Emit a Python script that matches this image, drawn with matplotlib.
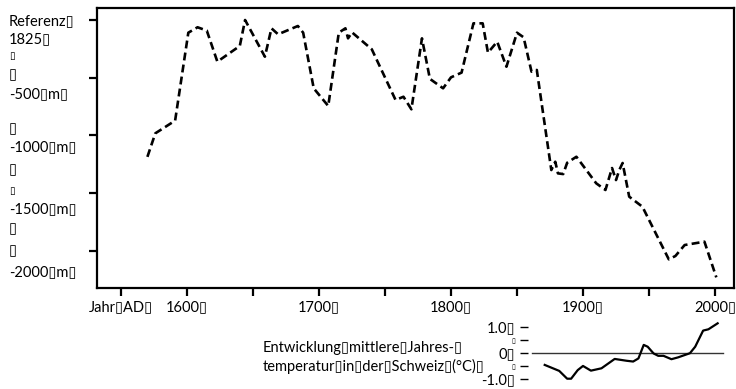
import matplotlib
matplotlib.use("Agg")
import matplotlib.pyplot as plt

# Glacier length change relative to 1825 (m)
years = [1570, 1576, 1591, 1601, 1608, 1615, 1623, 1640, 1644, 1659, 1664, 1669,
         1684, 1688, 1696, 1707, 1715, 1720, 1722, 1725, 1740, 1758, 1764, 1770,
         1778, 1784, 1794, 1800, 1808, 1817, 1824, 1828, 1835, 1842, 1850, 1855,
         1861, 1865, 1876, 1879, 1881, 1885, 1888, 1895, 1910, 1917, 1922, 1925,
         1927.5, 1930, 1935, 1945, 1965, 1970, 1977, 1992, 2001]
length = [-1186, -982, -872, -110, -63, -92, -361, -225, 0, -318, -72, -124,
          -52, -110, -592, -745, -110, -72, -159, -107, -254, -693, -665, -774,
          -159, -510, -592, -497, -456, -29, -29, -283, -188, -405, -110, -150,
          -448, -433, -1300, -1228, -1329, -1335, -1237, -1185, -1415, -1473, -1283, -1387,
          -1300, -1239, -1531, -1618, -2074, -2045, -1950, -1921, -2230]

# Swiss mean annual temperature anomaly (°C)
t_years = [1871, 1882, 1888, 1891, 1896, 1900, 1906, 1914, 1924, 1933, 1938, 1942,
           1946, 1949, 1953.5, 1957, 1961, 1967, 1972, 1981, 1985, 1991, 1995, 2002]
temp = [-0.47, -0.70, -1.0, -1.0, -0.67, -0.51, -0.69, -0.6, -0.24, -0.31, -0.34, -0.22,
        0.30, 0.23, -0.03, -0.12, -0.12, -0.25, -0.18, -0.02, 0.23, 0.85, 0.9, 1.13]

x_ticks = [1550, 1600, 1650, 1700, 1750, 1800, 1850, 1900, 1950, 2000]
x_labels = ["Jahr\u25afAD\u25af", "1600\u25af", "", "1700\u25af", "", "1800\u25af", "",
            "1900\u25af", "", "2000\u25af"]
y_ticks = [0, -500, -1000, -1500, -2000]
y_lines = ["Referenz\u25af", "1825\u25af", "\u25af", "\u25af", "-500\u25afm\u25af",
           "\u25af", "-1000\u25afm\u25af", "\u25af", "\u25af", "-1500\u25afm\u25af",
           "\u25af", "\u25af", "-2000\u25afm\u25af"]
t_ticks = [1.0, 0.5, 0.0, -0.5, -1.0]
t_labels = ["1.0\u25af", "\u25af", "0\u25af", "\u25af", "-1.0\u25af"]
inset_title = ["Entwicklung\u25afmittlere\u25afJahres-\u25af",
               "temperatur\u25afin\u25afder\u25afSchweiz\u25af(°C)\u25af"]

plt.rcParams['font.family'] = ['Lato', 'DejaVu Sans']
W, H = 736, 389
FS = 10.5
fig = plt.figure(figsize=(W / 100, H / 100), dpi=100)

xlim = (1550 - 24 / 1.32, 1550 + 613 / 1.32)

# main panel
ax = fig.add_axes([97 / W, 1 - 288 / H, 637 / W, 280.5 / H])
ax.plot(years, length, color='black', lw=1.9, dashes=(3, 1.6))
ax.set_xlim(*xlim)
ax.set_ylim(-(288 - 20) / 57.7 * 500, (20 - 7.5) / 57.7 * 500)
ax.set_xticks(x_ticks)
ax.set_xticklabels(x_labels, fontsize=FS)
ax.set_yticks(y_ticks)
ax.set_yticklabels([])
ax.tick_params(direction='out', length=6, width=1.6, pad=3)
for s in ax.spines.values():
    s.set_linewidth(1.6)

# y labels drawn as stacked text lines
y_pos = [21, 39, 57, 75, 94, 129, 147, 170, 191, 209, 229, 251, 272]
small = {2, 8}
for txt, yp, i in zip(y_lines, y_pos, range(len(y_lines))):
    fig.text(9 / W, 1 - yp / H, txt, fontsize=7.5 if i in small else FS,
             ha='left', va='center')

# temperature inset
ax2 = fig.add_axes([97 / W, 1 - 384 / H, 637 / W, 66 / H])
ax2.set_xlim(*xlim)
ax2.set_ylim(-(384 - 352.7) / 26, (352.7 - 318) / 26)
ax2.plot([1550 + (532 - 121) / 1.32, 1550 + (723 - 121) / 1.32], [0, 0],
         color='#333333', lw=1.0)
ax2.plot(t_years, temp, color='black', lw=1.6)
for s in ax2.spines.values():
    s.set_visible(False)
ax2.patch.set_alpha(0)
ax2.set_xticks([])
ax2.spines['left'].set_position(('data', 1550 + (528 - 121) / 1.32))
ax2.set_yticks(t_ticks)
ax2.set_yticklabels(t_labels, fontsize=FS)
ax2.tick_params(axis='y', direction='out', length=6, width=1.0, pad=3)
for i, lab in enumerate(ax2.get_yticklabels()):
    if i in (1, 3):
        lab.set_fontsize(5)

fig.text(263 / W, 1 - 348 / H, inset_title[0], fontsize=FS, ha='left', va='center')
fig.text(263 / W, 1 - 366 / H, inset_title[1], fontsize=FS, ha='left', va='center')

fig.savefig('out.png', dpi=100)
